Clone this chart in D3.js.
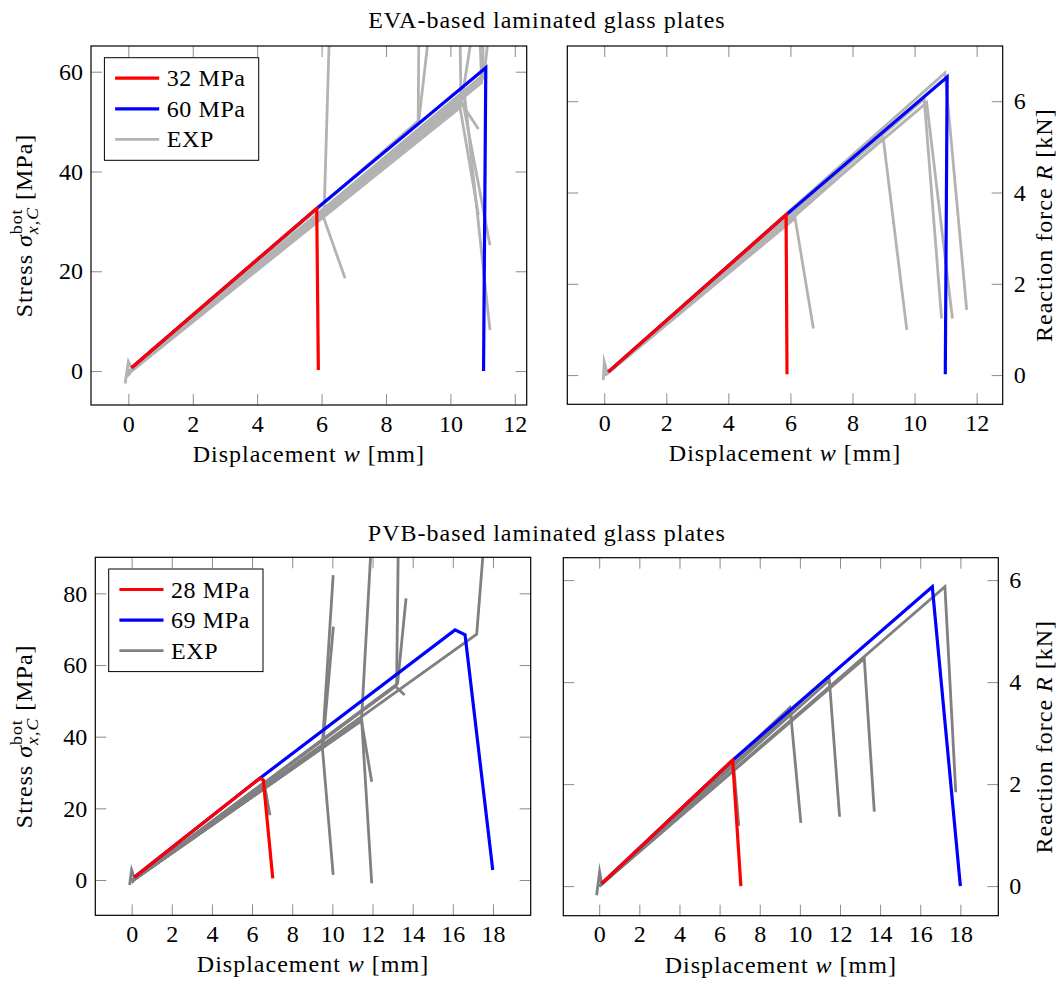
<!DOCTYPE html>
<html>
<head>
<meta charset="utf-8">
<script src="https://cdn.jsdelivr.net/npm/d3@7"></script>
<style>
  body { margin: 0; background: #fff; }
  svg { display: block; }
</style>
</head>
<body>
<svg id="fig" width="1060" height="983"></svg>
<script>
// ---------------------------------------------------------------
// Tick values
const xTicksEVA = [0, 2, 4, 6, 8, 10, 12];
const xTicksPVB = [0, 2, 4, 6, 8, 10, 12, 14, 16, 18];
const yTicksStressEVA = [0, 20, 40, 60];
const yTicksStressPVB = [0, 20, 40, 60, 80];
const yTicksForce = [0, 2, 4, 6];

// Legend entries
const legendEVA = ["32 MPa", "60 MPa", "EXP"];
const legendPVB = ["28 MPa", "69 MPa", "EXP"];

// Titles
const titleEVA = "EVA-based laminated glass plates";
const titlePVB = "PVB-based laminated glass plates";

// ---------------------------------------------------------------
// EVA: stress [MPa] vs displacement [mm]
const evaStressLow  = [[0.1, 0.66], [5.85, 32.6], [5.9, 0.2]];
const evaStressHigh = [[0.1, 0.66], [5.85, 32.6], [11.1, 60.8], [11.03, 0.0]];
const evaStressExp = [
  [[-0.1, -2.5], [0.0, 1.9], [0.12, 0.3], [6.08, 32.0], [6.24, 67]],
  [[-0.05, -1.2], [0.1, 0.2], [6.05, 31.0], [6.73, 18.6]],
  [[0.0, -0.6], [0.1, 0.1], [9.0, 50.0], [9.02, 67]],
  [[0.0, 0.0], [0.1, 0.2], [9.02, 50.2], [9.32, 67]],
  [[0.0, -0.8], [0.1, 0.1], [10.33, 54.0], [10.3, 67]],
  [[0.0, 0.0], [0.1, 0.3], [10.35, 54.3], [10.66, 67]],
  [[0.0, -0.4], [0.1, 0.1], [10.35, 53.6], [10.87, 48.5]],
  [[0.0, -0.5], [0.1, 0.0], [10.3, 52.8], [10.87, 31.3]],
  [[0.0, 0.0], [0.1, 0.2], [10.4, 53.6], [11.23, 25.2]],
  [[0.0, 0.0], [0.1, 0.2], [10.45, 54.8], [11.23, 8.2]],
  [[0.0, 0.0], [0.1, 0.3], [10.97, 57.8], [10.92, 67]],
  [[0.0, 0.0], [0.1, 0.3], [11.0, 58.6], [11.02, 67]],
  [[0.0, 0.0], [0.1, 0.3], [11.05, 59.5], [11.18, 67]]
];

// EVA: reaction force [kN] vs displacement [mm]
const evaForceLow  = [[0.13, 0.07], [5.86, 3.51], [5.89, 0.02]];
const evaForceHigh = [[0.13, 0.07], [5.86, 3.51], [11.05, 6.53], [10.99, 0.02]];
const evaForceExp = [
  [[-0.03, -0.11], [0.0, 0.29], [0.1, 0.03], [6.15, 3.44], [6.74, 1.02]],
  [[0.0, 0.0], [0.1, 0.04], [6.0, 3.4], [8.99, 5.19], [9.75, 0.99]],
  [[0.0, 0.0], [0.1, 0.05], [10.31, 6.05], [10.87, 1.24]],
  [[0.0, 0.0], [0.1, 0.05], [10.39, 5.97], [11.22, 1.24]],
  [[0.0, 0.0], [0.1, 0.05], [10.98, 6.62], [11.68, 1.43]]
];

// PVB: stress [MPa] vs displacement [mm]
const pvbStressLow  = [[0.13, 0.75], [6.39, 28.4], [6.56, 27.9], [7.03, 0.47]];
const pvbStressHigh = [[0.13, 0.75], [6.39, 28.4], [16.11, 69.8], [16.61, 68.4], [17.99, 2.8]];
const pvbStressExp = [
  [[-0.1, -1.4], [0.0, 2.8], [0.15, 0.3], [6.6, 27.2], [6.89, 18.1]],
  [[0.0, 0.0], [0.2, 0.5], [9.5, 37.5], [10.04, 85.1]],
  [[0.0, 0.0], [0.2, 0.4], [9.52, 37.2], [10.05, 70.7]],
  [[0.0, 0.0], [0.2, 0.4], [9.5, 37.0], [10.04, 1.4]],
  [[0.0, 0.0], [0.2, 0.4], [11.45, 44.5], [11.92, 92]],
  [[0.0, 0.0], [0.2, 0.4], [11.46, 44.6], [11.96, -0.9]],
  [[0.0, 0.0], [0.2, 0.4], [11.45, 44.5], [11.96, 27.4]],
  [[0.0, 0.0], [0.2, 0.4], [13.2, 54.5], [13.28, 92]],
  [[0.0, 0.0], [0.2, 0.4], [13.25, 54.8], [13.67, 78.6]],
  [[0.0, 0.0], [0.2, 0.4], [13.15, 54.0], [13.6, 51.6]],
  [[0.0, -0.8], [0.2, 0.4], [17.19, 68.6], [17.52, 92]]
];

// PVB: reaction force [kN] vs displacement [mm]
const pvbForceLow  = [[0.12, 0.05], [6.65, 2.47], [7.06, 0.0]];
const pvbForceHigh = [[0.12, 0.05], [6.65, 2.47], [16.6, 5.87], [18.0, 0.0]];
const pvbForceExp = [
  [[-0.13, -0.18], [0.02, 0.28], [0.12, 0.05], [6.68, 2.44], [6.96, 1.18]],
  [[0.0, 0.0], [0.15, 0.05], [9.54, 3.39], [10.05, 1.24]],
  [[0.0, 0.0], [0.15, 0.05], [9.5, 3.5], [9.56, 3.3]],
  [[0.0, 0.0], [0.15, 0.05], [11.47, 4.04], [11.98, 1.36]],
  [[0.0, 0.0], [0.15, 0.05], [11.4, 4.1], [11.5, 3.95]],
  [[0.0, 0.0], [0.15, 0.05], [13.21, 4.46], [13.71, 1.46]],
  [[0.0, 0.0], [0.15, 0.05], [17.23, 5.87], [17.77, 1.84]]
];

// ---------------------------------------------------------------
// Appearance
const FONT = '"Liberation Serif", "Times New Roman", serif';
const FS = 24;
const LS = 1.0;        // letter spacing for labels and titles
const LS_LEGEND = 0.6;
const TICK_LEN = 11;
const TICK_COLOR = "#8c8c8c";
const RED = "#ff0000", BLUE = "#0000ff";
const GRAY_LIGHT = "#b3b3b3", GRAY_DARK = "#808080";

const panels = [
  { box: [91, 46, 526.7, 405],    xDom: [-1.16, 12.37], yDom: [-6.8, 65.15],
    xTicks: xTicksEVA, yTicks: yTicksStressEVA, side: "left", quantity: "stress",
    exp: evaStressExp, low: evaStressLow, high: evaStressHigh, gray: GRAY_LIGHT, legend: legendEVA },
  { box: [567.3, 46, 1002.7, 404.3], xDom: [-1.19, 12.84], yDom: [-0.64, 7.21],
    xTicks: xTicksEVA, yTicks: yTicksForce, side: "right", quantity: "force",
    exp: evaForceExp, low: evaForceLow, high: evaForceHigh, gray: GRAY_LIGHT },
  { box: [95.3, 557.3, 530.7, 915.3], xDom: [-1.81, 19.88], yDom: [-9.85, 90.05],
    xTicks: xTicksPVB, yTicks: yTicksStressPVB, side: "left", quantity: "stress",
    exp: pvbStressExp, low: pvbStressLow, high: pvbStressHigh, gray: GRAY_DARK, legend: legendPVB },
  { box: [563.3, 557.7, 998.3, 915.7], xDom: [-1.79, 19.89], yDom: [-0.58, 6.44],
    xTicks: xTicksPVB, yTicks: yTicksForce, side: "right", quantity: "force",
    exp: pvbForceExp, low: pvbForceLow, high: pvbForceHigh, gray: GRAY_DARK }
];

const svg = d3.select("#fig");
const defs = svg.append("defs");
const intFmt = d3.format("d");

function styleAxis(sel) {
  sel.attr("font-family", null).attr("font-size", null);
  sel.select(".domain").remove();
  sel.selectAll(".tick line").attr("stroke", TICK_COLOR).attr("stroke-width", 1);
  sel.selectAll(".tick text").attr("font-family", FONT).attr("font-size", FS).attr("fill", "#000");
}

function mathText(parent, parts) {
  const t = parent.append("text").attr("font-family", FONT).attr("font-size", FS)
    .attr("letter-spacing", LS).attr("fill", "#000");
  parts.forEach(p => {
    const s = t.append("tspan").text(p.t);
    if (p.italic) s.attr("font-style", "italic");
  });
  return t;
}

function xLabel(cx, baseline) {
  const t = mathText(svg, [{ t: "Displacement " }, { t: "w", italic: true }, { t: " [mm]" }]);
  t.attr("x", cx).attr("y", baseline).attr("text-anchor", "middle");
}

function stressLabel(xBase, cy) {
  const g = svg.append("g").attr("transform", `translate(${xBase},${cy}) rotate(-90)`);
  const t = g.append("text").attr("font-family", FONT).attr("font-size", FS)
    .attr("letter-spacing", LS).attr("fill", "#000");
  t.append("tspan").text("Stress ");
  t.append("tspan").attr("font-style", "italic").text("σ");
  const small = FS * 0.74;
  const sup = t.append("tspan").attr("font-size", small).attr("dy", -FS * 0.42).text("bot");
  const supW = sup.node().getComputedTextLength();
  const sub = t.append("tspan").attr("font-size", small).attr("font-style", "italic")
    .attr("dx", -supW).attr("dy", FS * 0.68).text("x,C");
  const subW = sub.node().getComputedTextLength();
  t.append("tspan").attr("dx", Math.max(0, supW - subW)).attr("dy", -FS * 0.26).text(" [MPa]");
  const bb = t.node().getBBox();
  t.attr("x", -bb.width / 2);
}

function forceLabel(xBase, cy) {
  const g = svg.append("g").attr("transform", `translate(${xBase},${cy}) rotate(-90)`);
  const t = mathText(g, [{ t: "Reaction force " }, { t: "R", italic: true }, { t: " [kN]" }]);
  t.attr("x", 0).attr("y", 0).attr("text-anchor", "middle");
}

panels.forEach((p, i) => {
  const [L, T, R, B] = p.box;
  const x = d3.scaleLinear().domain(p.xDom).range([L, R]);
  const y = d3.scaleLinear().domain(p.yDom).range([B, T]);
  const g = svg.append("g");

  defs.append("clipPath").attr("id", "clip" + i)
    .append("rect").attr("x", L).attr("y", T).attr("width", R - L).attr("height", B - T);

  // ticks on all four sides, pointing inwards
  g.append("g").attr("transform", `translate(0,${B})`)
    .call(d3.axisBottom(x).tickValues(p.xTicks).tickSize(-TICK_LEN).tickFormat(intFmt))
    .call(styleAxis)
    .selectAll(".tick text").attr("y", 26.5).attr("dy", 0);
  g.append("g").attr("transform", `translate(0,${T})`)
    .call(d3.axisTop(x).tickValues(p.xTicks).tickSize(-TICK_LEN).tickFormat(""))
    .call(styleAxis);
  const yl = d3.axisLeft(y).tickValues(p.yTicks).tickSize(-TICK_LEN).tickPadding(8).tickFormat(intFmt);
  const yr = d3.axisRight(y).tickValues(p.yTicks).tickSize(-TICK_LEN).tickPadding(11).tickFormat(intFmt);
  if (p.side === "left") yr.tickFormat(""); else yl.tickFormat("");
  g.append("g").attr("transform", `translate(${L},0)`).call(yl).call(styleAxis);
  g.append("g").attr("transform", `translate(${R},0)`).call(yr).call(styleAxis);

  // curves: experiments first, then the two model curves
  const line = d3.line().x(d => x(d[0])).y(d => y(d[1]));
  const plot = g.append("g").attr("clip-path", `url(#clip${i})`)
    .attr("fill", "none").attr("stroke-linejoin", "miter").attr("stroke-miterlimit", 10);
  plot.selectAll("path.exp").data(p.exp).join("path").attr("class", "exp")
    .attr("d", line).attr("stroke", p.gray).attr("stroke-width", 2.8);
  plot.append("path").datum(p.high).attr("d", line).attr("stroke", BLUE).attr("stroke-width", 3.2);
  plot.append("path").datum(p.low).attr("d", line).attr("stroke", RED).attr("stroke-width", 3.2);

  // frame
  g.append("rect").attr("x", L).attr("y", T).attr("width", R - L).attr("height", B - T)
    .attr("fill", "none").attr("stroke", "#000").attr("stroke-width", 1.2);

  // legend
  if (p.legend) {
    const lx = L + 13.4, ly = T + 11.7;
    const lg = g.append("g");
    lg.append("rect").attr("x", lx).attr("y", ly).attr("width", 154.3).attr("height", 102.6)
      .attr("fill", "#fff").attr("stroke", "#000").attr("stroke-width", 1);
    const colors = [RED, BLUE, p.gray];
    const rows = [20.5, 51.2, 81.6];
    p.legend.forEach((name, k) => {
      lg.append("line").attr("x1", lx + 10.7).attr("x2", lx + 54.8)
        .attr("y1", ly + rows[k]).attr("y2", ly + rows[k])
        .attr("stroke", colors[k]).attr("stroke-width", k === 2 ? 2.8 : 3.2);
      lg.append("text").attr("x", lx + 62.3).attr("y", ly + rows[k]).attr("dy", "0.34em")
        .attr("font-family", FONT).attr("font-size", FS).attr("letter-spacing", LS_LEGEND)
        .attr("fill", "#000").text(name);
    });
  }

  // axis labels
  xLabel((L + R) / 2, B + 57);
  if (p.quantity === "stress") stressLabel(32, (T + B) / 2);
  else forceLabel(1052, (T + B) / 2);
});

// titles
svg.append("text").attr("x", 546.9).attr("y", 27.5).attr("text-anchor", "middle")
  .attr("font-family", FONT).attr("font-size", FS).attr("letter-spacing", LS)
  .attr("fill", "#000").text(titleEVA);
svg.append("text").attr("x", 546.8).attr("y", 540.5).attr("text-anchor", "middle")
  .attr("font-family", FONT).attr("font-size", FS).attr("letter-spacing", LS)
  .attr("fill", "#000").text(titlePVB);
</script>
</body>
</html>
